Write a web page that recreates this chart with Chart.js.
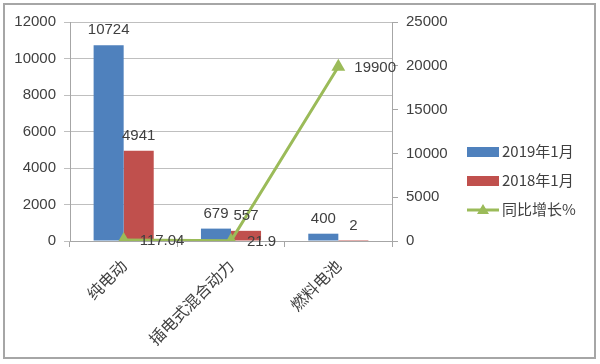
<!DOCTYPE html>
<html>
<head>
<meta charset="utf-8">
<script src="https://cdn.jsdelivr.net/npm/chart.js"></script>
<style>
  html, body { margin: 0; padding: 0; background: #fff; }
  #wrap { width: 600px; height: 364px; position: relative; }
</style>
</head>
<body>
<div id="wrap"><canvas id="myChart" width="600" height="364"></canvas></div>
<script>
// chart data
const categories = ['纯电动', '插电式混合动力', '燃料电池'];
const sales2019 = [10724, 679, 400];
const sales2018 = [4941, 557, 2];
const growthPct = [117.04, 21.9, 19900];
const leftTicks = [0, 2000, 4000, 6000, 8000, 10000, 12000];
const rightTicks = [0, 5000, 10000, 15000, 20000, 25000];

const TICK_FONT = { family: '"Liberation Sans", "Noto Sans CJK SC", sans-serif', size: 15 };
const CJK_FONT = '"Noto Sans CJK SC", sans-serif';
const TEXT = '#404040';

// frame round the whole picture
const framePlugin = {
  id: 'frame',
  afterDraw(chart) {
    const ctx = chart.ctx;
    ctx.save();
    ctx.strokeStyle = '#a6a6a6';
    ctx.lineWidth = 2;
    ctx.strokeRect(4, 4, 591, 354);
    ctx.restore();
  },
};

// value labels next to bars and points
const labelPlugin = {
  id: 'valueLabels',
  afterDatasetsDraw(chart) {
    const ctx = chart.ctx;
    ctx.save();
    ctx.font = '15px ' + TICK_FONT.family;
    ctx.fillStyle = TEXT;
    chart.data.datasets.forEach((ds, i) => {
      const meta = chart.getDatasetMeta(i);
      meta.data.forEach((el, j) => {
        const v = String(ds.data[j]);
        if (ds.type === 'line') {
          ctx.textAlign = 'left';
          ctx.textBaseline = 'middle';
          ctx.fillText(v, el.x + 16, el.y + 1);
        } else {
          ctx.textAlign = 'center';
          ctx.textBaseline = 'alphabetic';
          ctx.fillText(v, el.x, el.y - 11);
        }
      });
    });
    ctx.restore();
  },
};

// legend on the right
const legendPlugin = {
  id: 'sideLegend',
  afterDraw(chart) {
    const ctx = chart.ctx;
    const x = 467;
    let y = 152;
    ctx.save();
    ctx.font = '15px ' + CJK_FONT;
    ctx.textBaseline = 'middle';
    ctx.textAlign = 'left';
    chart.data.datasets.forEach((ds) => {
      if (ds.type === 'line') {
        ctx.strokeStyle = ds.borderColor;
        ctx.lineWidth = 3;
        ctx.beginPath();
        ctx.moveTo(x, y);
        ctx.lineTo(x + 32, y);
        ctx.stroke();
        ctx.fillStyle = ds.borderColor;
        ctx.beginPath();
        ctx.moveTo(x + 16, y - 6);
        ctx.lineTo(x + 22, y + 4);
        ctx.lineTo(x + 10, y + 4);
        ctx.closePath();
        ctx.fill();
      } else {
        ctx.fillStyle = ds.backgroundColor;
        ctx.fillRect(x, y - 5, 32, 10);
      }
      ctx.fillStyle = TEXT;
      ctx.fillText(ds.label, x + 35, y - 1);
      y += 29;
    });
    ctx.restore();
  },
};

const ctx = document.getElementById('myChart').getContext('2d');

new Chart(ctx, {
  data: {
    labels: categories,
    datasets: [
      {
        type: 'bar',
        label: '2019年1月',
        data: sales2019,
        yAxisID: 'y',
        backgroundColor: '#4f81bd',
        categoryPercentage: 0.56,
        barPercentage: 1,
        order: 1,
      },
      {
        type: 'bar',
        label: '2018年1月',
        data: sales2018,
        yAxisID: 'y',
        backgroundColor: '#c0504d',
        categoryPercentage: 0.56,
        barPercentage: 1,
        order: 1,
      },
      {
        type: 'line',
        label: '同比增长%',
        data: growthPct,
        yAxisID: 'y1',
        borderColor: '#9bbb59',
        backgroundColor: '#9bbb59',
        borderWidth: 3,
        pointStyle: 'triangle',
        pointRadius: 8,
        pointBorderWidth: 0,
        tension: 0,
        order: 0,
      },
    ],
  },
  options: {
    responsive: false,
    animation: false,
    layout: { padding: { top: 22, left: 0, right: 0, bottom: 0 } },
    plugins: {
      legend: { display: false },
      tooltip: { enabled: false },
    },
    scales: {
      x: {
        offset: true,
        grid: {
          offset: true,
          drawOnChartArea: false,
          color: '#a6a6a6',
          tickLength: 6,
        },
        border: { color: '#a6a6a6' },
        ticks: {
          font: { family: CJK_FONT, size: 16 },
          color: TEXT,
          maxRotation: 45,
          minRotation: 45,
          padding: 9,
        },
        afterFit(scale) { scale.height = 123; },
      },
      y: {
        position: 'left',
        min: 0,
        max: 12000,
        afterBuildTicks(scale) { scale.ticks = leftTicks.map((v) => ({ value: v })); },
        grid: { color: '#bfbfbf', tickLength: 6, lineWidth: 1 },
        border: { color: '#a6a6a6' },
        ticks: { font: TICK_FONT, color: TEXT, padding: 8, callback: (v) => String(v) },
        afterFit(scale) { scale.width = 70; },
      },
      y1: {
        position: 'right',
        min: 0,
        max: 25000,
        afterBuildTicks(scale) { scale.ticks = rightTicks.map((v) => ({ value: v })); },
        grid: { drawOnChartArea: false, color: '#a6a6a6', tickLength: 6 },
        border: { color: '#a6a6a6' },
        ticks: { font: TICK_FONT, color: TEXT, padding: 8, callback: (v) => String(v) },
        afterFit(scale) { scale.width = 208; },
      },
    },
  },
  plugins: [framePlugin, labelPlugin, legendPlugin],
});
</script>
</body>
</html>
